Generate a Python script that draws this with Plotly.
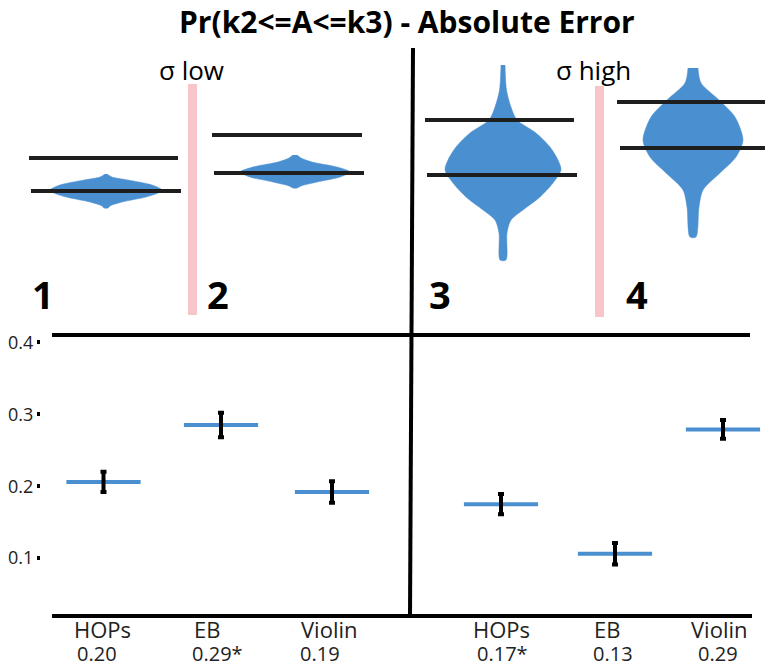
import plotly.graph_objects as go

# bottom panel: absolute error per condition
conditions = ["HOPs", "EB", "Violin", "HOPs", "EB", "Violin"]
score_labels = ["0.20", "0.29*", "0.19", "0.17*", "0.13", "0.29"]
mean_error = [0.206, 0.285, 0.192, 0.175, 0.106, 0.279]
ci_half = [0.014, 0.017, 0.015, 0.014, 0.015, 0.013]
y_ticks = [0.1, 0.2, 0.3, 0.4]

# top panel: schematic violins (height, half width) and k2/k3 lines
violin_heights = [
    [161, 158, 155, 150, 145, 142, 138, 133, 129, 127],
    [180, 177, 173, 168, 163, 158, 153, 149, 147],
    [270, 245, 228, 215, 202, 188, 175, 165, 152, 138, 125, 115, 102, 75],
    [267, 252, 235, 218, 195, 178, 162, 145, 128, 98],
]
violin_halfwidths = [
    [1, 6, 22, 46, 56, 52, 40, 16, 4, 2],
    [2, 6, 17, 42, 55, 45, 22, 6, 2],
    [2, 3.5, 8, 14, 33, 47, 55, 58, 50, 37, 20, 8, 4, 3],
    [5, 8, 26, 42, 50, 43, 27, 10, 6, 3],
]
k3_level = [177, 200, 215, 233]
k2_level = [144, 162, 160, 187]
panel_numbers = ["1", "2", "3", "4"]

# layout positions (horizontal units = px of the page)
W, H = 773, 669
PAGE = 8  # default body margin of the html page
mark_x = [103.5, 221, 332, 501, 615, 723]
name_x = [73, 193, 300, 472, 593, 690]
score_x = [76, 191, 299, 476, 592, 697]
violin_x = [106, 295, 503, 693]
upper_span = [(29, 178), (212, 362), (425, 574), (617, 767)]
lower_span = [(31, 181), (214, 364), (427, 577), (620, 769)]
number_x = [30, 205, 427, 624]

BLUE = "#4a8fcf"
INK = "#1e1e1e"
PINK = "#f8c6ca"


def py(px):
    # page row from the top -> paper fraction
    return 1 - (px - PAGE) / H


fig = go.Figure()

# violins in the top panel
for cx, hs, ws in zip(violin_x, violin_heights, violin_halfwidths):
    xs = [cx + w for w in ws] + [cx - w for w in ws[::-1]]
    ys = hs + hs[::-1]
    fig.add_trace(go.Scatter(
        x=xs, y=ys, xaxis="x", yaxis="y2", mode="lines",
        line=dict(color=BLUE, width=0.5, shape="spline", smoothing=0.8),
        fill="toself", fillcolor=BLUE, hoverinfo="skip"))

# k2 / k3 lines
for (a, b), (c, d), up, lo in zip(upper_span, lower_span, k3_level, k2_level):
    fig.add_shape(type="line", xref="x", yref="y2", x0=a, x1=b, y0=up, y1=up,
                  line=dict(color=INK, width=4))
    fig.add_shape(type="line", xref="x", yref="y2", x0=c, x1=d, y0=lo, y1=lo,
                  line=dict(color=INK, width=4))

# pink separators within each sigma group
fig.add_shape(type="rect", xref="x", yref="y2", x0=188, x1=197, y0=20, y1=251,
              fillcolor=PINK, line_width=0, layer="below")
fig.add_shape(type="rect", xref="x", yref="y2", x0=595, x1=604, y0=18, y1=249,
              fillcolor=PINK, line_width=0, layer="below")

for nx, t in zip(number_x, panel_numbers):
    fig.add_annotation(x=nx, y=41, xref="x", yref="y2", text="<b>%s</b>" % t,
                       showarrow=False, xanchor="left", yanchor="middle",
                       font=dict(size=38, color="black", family="Open Sans"))

# bottom panel marks
fig.add_trace(go.Scatter(
    x=mark_x, y=mean_error, mode="markers",
    marker=dict(symbol="line-ew", size=53, line=dict(width=4, color=BLUE)),
    hoverinfo="skip"))
fig.add_trace(go.Scatter(
    x=mark_x, y=mean_error, mode="markers",
    marker=dict(size=1, color="rgba(0,0,0,0)"),
    error_y=dict(type="data", array=ci_half, color="black", thickness=4, width=3),
    hoverinfo="skip"))

for t, nx in zip(conditions, name_x):
    fig.add_annotation(x=nx, y=py(629), xref="x", yref="paper", text=t, showarrow=False,
                       xanchor="left", yanchor="middle", borderpad=0,
                       font=dict(size=22, color="#222", family="Open Sans"))
for t, sx in zip(score_labels, score_x):
    fig.add_annotation(x=sx, y=py(668), xref="x", yref="paper", text=t, showarrow=False,
                       xanchor="left", yanchor="bottom", borderpad=0,
                       font=dict(size=20, color="#222", family="Open Sans"))

# frame lines
fig.add_shape(type="line", xref="x", yref="paper", x0=413, x1=410, y0=py(48), y1=py(616),
              line=dict(color="black", width=4))
fig.add_shape(type="line", xref="x", yref="paper", x0=52, x1=750, y0=py(335), y1=py(335),
              line=dict(color="black", width=4))
fig.add_shape(type="line", xref="x", yref="paper", x0=52, x1=752, y0=py(616), y1=py(616),
              line=dict(color="black", width=4))

# titles
fig.add_annotation(x=407, y=py(21), xref="x", yref="paper", yanchor="middle",
                   text="<b>Pr(k2<=A<=k3) - Absolute Error</b>", showarrow=False,
                   font=dict(size=30, color="black", family="Open Sans"))
fig.add_annotation(x=191, y=py(70), xref="x", yref="paper", yanchor="middle", text="σ low",
                   showarrow=False, font=dict(size=26, color="black", family="Open Sans"))
fig.add_annotation(x=593, y=py(70), xref="x", yref="paper", yanchor="middle", text="σ high",
                   showarrow=False, font=dict(size=26, color="black", family="Open Sans"))

y_lo = 0.25 + (450.25 - 616) / 719
y_hi = 0.25 + (450.25 - 335) / 719

fig.update_layout(
    width=W, height=H,
    margin=dict(l=0, r=0, t=0, b=0, autoexpand=False),
    paper_bgcolor="white", plot_bgcolor="white",
    showlegend=False,
    xaxis=dict(domain=[0, 1], range=[PAGE, PAGE + W], visible=False),
    yaxis=dict(domain=[py(616), py(335)], range=[y_lo, y_hi],
               anchor="free", position=(40 - PAGE) / W, automargin=False,
               tickvals=y_ticks, ticktext=[str(v) for v in y_ticks],
               ticks="outside", ticklen=3, tickwidth=4, tickcolor="black",
               showline=False, showgrid=False, zeroline=False,
               tickfont=dict(size=18, color="#222", family="Open Sans")),
    yaxis2=dict(domain=[py(335), 1], range=[0, 335 - PAGE], visible=False, anchor="x"),
)

fig.write_html("out.html")
